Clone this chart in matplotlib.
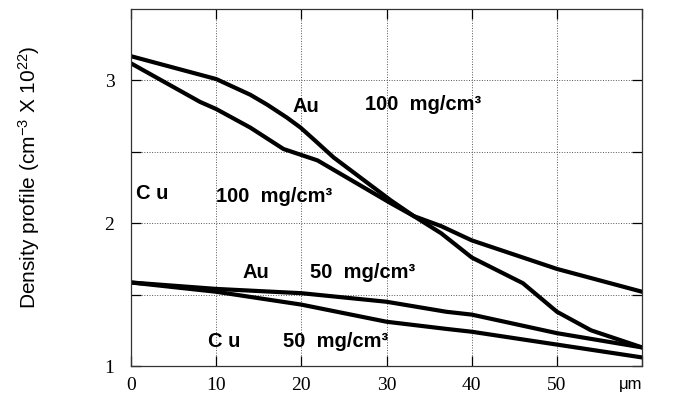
import numpy as np
import matplotlib
matplotlib.use('Agg')
from matplotlib import pyplot as plt

plt.rcParams['mathtext.fontset'] = 'custom'
plt.rcParams['mathtext.rm'] = 'Liberation Sans'
plt.rcParams['mathtext.it'] = 'Liberation Sans:italic'
plt.rcParams['mathtext.bf'] = 'Liberation Sans:bold'

# density profiles (x in um, y in 1e22 cm^-3)
au100_x = [0, 10, 14, 16, 18.3, 19.9, 21.4, 23.8, 30.5, 33.2, 36.4, 40, 46, 48, 50, 54, 60]
au100_y = [3.17, 3.01, 2.90, 2.83, 2.74, 2.67, 2.59, 2.46, 2.16, 2.05, 1.93, 1.76, 1.58, 1.48, 1.38, 1.25, 1.13]

cu100_x = [0, 8.1, 10, 14, 17.9, 21.9, 30.5, 33.2, 36.4, 40, 50, 60]
cu100_y = [3.12, 2.85, 2.80, 2.67, 2.52, 2.44, 2.14, 2.05, 1.98, 1.88, 1.68, 1.52]

au50_x = [0, 10, 20, 30, 37, 40, 50, 60]
au50_y = [1.585, 1.54, 1.51, 1.45, 1.38, 1.36, 1.23, 1.13]

cu50_x = [0, 10, 20, 25, 30, 37, 40, 50, 60]
cu50_y = [1.585, 1.52, 1.43, 1.37, 1.31, 1.26, 1.24, 1.15, 1.06]

xticks = [0, 10, 20, 30, 40, 50, 60]
xticklabels = ['0', '10', '20', '30', '40', '50', 'μm']
yticks = [1, 1.5, 2, 2.5, 3]
yticklabels = ['1', '', '2', '', '3']

fig = plt.figure(figsize=(6.77, 3.95), dpi=100)
ax = fig.add_axes([0.1935, 0.0734, 0.755, 0.9036])

for xs, ys in [(au100_x, au100_y), (cu100_x, cu100_y), (au50_x, au50_y), (cu50_x, cu50_y)]:
    ax.plot(xs, ys, color='black', lw=3, solid_joinstyle='round')

ax.set_xlim(0, 60)
ax.set_ylim(1, 3.5)
ax.set_xticks(xticks)
ax.set_xticklabels(xticklabels)
ax.set_yticks(yticks)
ax.set_yticklabels(yticklabels)
ax.grid(True, ls=':', lw=0.7, color='#555555')

ax.tick_params(direction='in', top=True, right=True, length=7, width=0.9,
               labelsize=14)
ax.tick_params(axis='x', pad=8)
ax.tick_params(axis='y', pad=12)
for lab in ax.get_xticklabels() + ax.get_yticklabels():
    lab.set_family('Liberation Serif')
mu = ax.get_xticklabels()[-1]
mu.set_family('Liberation Sans')
mu.set_fontsize(12)
mu.set_ha('right')
mu.set_x(60.5)

for sp in ax.spines.values():
    sp.set_linewidth(0.9)
    sp.set_color('#333333')

ax.set_ylabel('Density profile (cm$^{-3}$ X 10$^{22}$)', family='Liberation Sans',
              fontsize=15)
ax.yaxis.set_label_coords(-0.175, 0.53)

tk = dict(family='Liberation Sans', fontweight='bold', fontsize=14.5, va='center')
ax.text(18.9, 2.82, 'Au', ha='left', **tk)
ax.text(27.5, 2.83, '100  mg/cm³', ha='left', **tk)
ax.text(0.6, 2.21, 'C u', ha='left', **tk)
ax.text(10, 2.19, '100  mg/cm³', ha='left', **tk)
ax.text(13.1, 1.655, 'Au', ha='left', **tk)
ax.text(21, 1.655, '50  mg/cm³', ha='left', **tk)
ax.text(9, 1.17, 'C u', ha='left', **tk)
ax.text(17.9, 1.17, '50  mg/cm³', ha='left', **tk)

fig.savefig('out.png', dpi=100)
